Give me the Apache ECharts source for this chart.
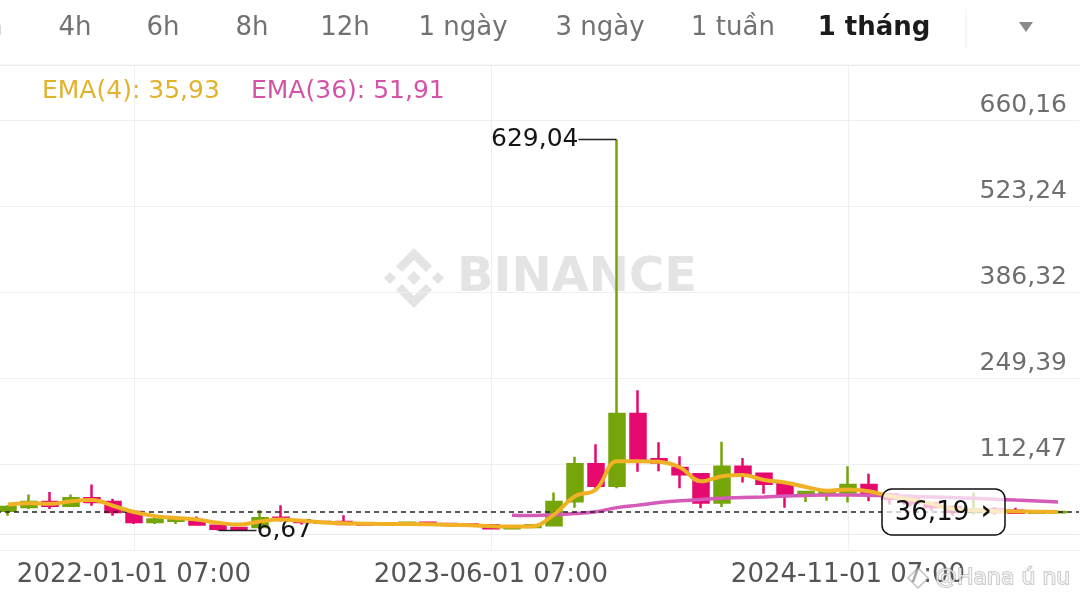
<!DOCTYPE html>
<html>
<head>
<meta charset="utf-8">
<script src="https://cdn.jsdelivr.net/npm/echarts@6/dist/echarts.min.js"></script>
<style>
  html, body { margin: 0; padding: 0; background: #fff; }
  #chart { width: 1080px; height: 606px; }
</style>
</head>
<body>
<div id="chart"></div>
<script>
// monthly slots 2021-06 .. 2025-10; candles fill 2021-07 .. 2025-09
const categories = [];
for (let i = 0; i < 53; i++) {
  const y = 2021 + Math.floor((5 + i) / 12);
  const m = ((5 + i) % 12) + 1;
  categories.push(y + '-' + String(m).padStart(2, '0') + '-01 07:00');
}
const firstSlot = 1; // 2021-07

// [open, close, lowest, highest]
const candles = [
  [38, 44, 30, 47], [44, 52, 41, 64], [52, 46, 41, 68], [46, 58, 44, 64],
  [58, 52, 46, 80], [52, 36, 30, 57], [36, 20, 17, 38], [20, 24, 17, 28],
  [22, 25, 17, 27], [21, 16, 15, 29], [14, 9.5, 6.67, 16], [10.5, 7.8, 7.2, 11.5],
  [12, 26, 10, 39], [27, 24, 21, 47], [23, 20, 16, 24], [20, 19, 17, 22],
  [20, 17, 15, 31], [17, 16, 14, 19], [16, 17, 14, 19], [17, 19, 15, 21],
  [19, 17, 15, 20], [17, 16, 14, 18], [16, 15, 13, 17], [15, 10, 9, 16],
  [10, 12, 9, 13], [12, 15, 11, 16], [15, 52, 14, 67], [53, 112, 43, 124],
  [112, 78, 70, 144], [78, 192, 74, 629.04], [192, 120, 100, 230], [120, 115, 101, 147],
  [106, 96, 74, 125], [96, 51, 42, 97], [51, 108, 44, 148], [108, 97, 83, 122],
  [97, 81, 65, 99], [81, 64, 43, 84], [65, 68, 52, 70], [66, 68, 54, 70],
  [67, 79, 51, 109], [79, 64, 53, 97], [64, 57, 48, 66], [57, 50, 45, 60],
  [50, 44, 38, 52], [44, 36, 30, 46], [36, 40, 32, 67], [40, 36, 32, 44],
  [38, 35, 33, 43], [35, 36, 33, 38], [35.5, 36.19, 35, 37]
];

const ema4 = [
  48, 50, 49, 53, 55, 46, 36, 29.5, 26.5, 24, 19, 16, 21, 24, 22, 19.5,
  18, 17.5, 17, 17, 16.5, 15.5, 15, 13.5, 12.8, 13.5, 32, 61, 72, 117,
  117, 116, 107, 85, 93, 95, 87, 83, 76, 70, 72, 69, 61, 56, 49, 41,
  39, 37.5, 37, 36.5, 35.93
];

const ema36 = [
  null, null, null, null, null, null, null, null, null, null, null, null,
  null, null, null, null, null, null, null, null, null, null, null, null,
  31, 30.5, 31.5, 33.5, 36.5, 43, 47, 51, 54, 56, 58, 59, 60, 61.5, 62.5,
  63, 63, 62.8, 62, 61, 60, 59, 58, 56.5, 55, 53.5, 51.91
];

const yTicks = [112.47, 249.39, 386.32, 523.24, 660.16];

const tabs = ['2h', '4h', '6h', '8h', '12h', '1 ngày', '3 ngày', '1 tuần', '1 tháng'];
const tabX = [-14, 75, 163, 252, 345, 463, 600, 733, 874];
const activeTab = '1 tháng';

const FONT = '"DejaVu Sans", sans-serif';
const UP = '#76a50a';
const DOWN = '#e6096e';
const EMA4_COLOR = '#f0b224';
const EMA36_COLOR = '#d65ab8';

const fmt = (v) => Number(v).toFixed(2).replace('.', ',');
const yStep = (yTicks[yTicks.length - 1] - yTicks[0]) / (yTicks.length - 1);
const yMin = yTicks[0] - yStep;
const lastClose = candles[candles.length - 1][1];
// label each grid line with the nearest listed tick value
const tickLabel = (v) => {
  let best = yTicks[0];
  yTicks.forEach((t) => { if (Math.abs(t - v) < Math.abs(best - v)) best = t; });
  return fmt(best);
};

const showIdx = (i) => i % 17 === 7;

const kData = candles.map((c, i) => [i + firstSlot].concat(c));
const ema4Data = ema4.map((v, i) => [i + firstSlot, v]);
const ema36Data = ema36.map((v, i) => [i + firstSlot, v == null ? '-' : v]);

const chart = echarts.init(document.getElementById('chart'), null, { renderer: 'canvas' });

const binanceLogo = {
  type: 'group',
  x: 414, y: 278, z: 1,
  children: [
    [[0, -30], [18, -12], [12, -6], [0, -18], [-12, -6], [-18, -12]],
    [[0, 30], [18, 12], [12, 6], [0, 18], [-12, 6], [-18, 12]],
    [[-30, 0], [-24, -6], [-18, 0], [-24, 6]],
    [[30, 0], [24, -6], [18, 0], [24, 6]],
    [[0, -7], [7, 0], [0, 7], [-7, 0]]
  ].map((pts) => ({ type: 'polygon', shape: { points: pts }, style: { fill: '#e4e4e4' } }))
};

const graphics = [
  // header tabs
  ...tabs.map((t, i) => ({
    type: 'text', x: tabX[i], y: 28, z: 10,
    style: {
      text: t, fill: t === activeTab ? '#1b1b1b' : '#727272',
      font: (t === activeTab ? 'bold ' : '') + '26px ' + FONT,
      align: 'center', verticalAlign: 'middle'
    }
  })),
  { type: 'line', z: 10, shape: { x1: 966, y1: 9, x2: 966, y2: 49 }, style: { stroke: '#ececec', lineWidth: 1 } },
  { type: 'polygon', z: 10, shape: { points: [[1019, 22], [1033, 22], [1026, 32]] }, style: { fill: '#8a8a8a' } },
  { type: 'line', z: 10, shape: { x1: 0, y1: 65, x2: 1080, y2: 65 }, style: { stroke: '#ececec', lineWidth: 1 } },
  // EMA legend
  {
    type: 'text', x: 42, y: 91, z: 10,
    style: { text: 'EMA(4): ' + fmt(ema4[ema4.length - 1]), fill: '#e3b22c', font: '25px ' + FONT, verticalAlign: 'middle' }
  },
  {
    type: 'text', x: 251, y: 91, z: 10,
    style: { text: 'EMA(36): ' + fmt(ema36[ema36.length - 1]), fill: '#d453a8', font: '25px ' + FONT, verticalAlign: 'middle' }
  },
  // Binance watermark
  binanceLogo,
  {
    type: 'text', x: 457, y: 279, z: 1,
    style: { text: 'BINANCE', fill: '#e4e4e4', font: 'bold 48px ' + FONT, verticalAlign: 'middle' }
  },
  // Square watermark
  {
    type: 'polygon', z: 60,
    shape: { points: [[918, 568], [928, 578], [918, 588], [908, 578]] },
    style: { fill: 'rgba(255,255,255,0.5)', stroke: 'rgba(120,120,120,0.45)', lineWidth: 1.5 }
  },
  {
    type: 'text', x: 935, y: 578, z: 60,
    style: {
      text: '@Hana ú nu', fill: 'rgba(255,255,255,0.75)', stroke: 'rgba(110,110,110,0.45)', lineWidth: 1.5,
      font: '22px ' + FONT, verticalAlign: 'middle'
    }
  }
];

chart.setOption({
  animation: false,
  backgroundColor: '#fff',
  grid: { left: -13, width: 1092, top: 65, bottom: 56, containLabel: false, outerBoundsMode: 'none' },
  xAxis: {
    type: 'category',
    data: categories,
    boundaryGap: false,
    axisLine: { show: true, lineStyle: { color: '#ececec' } },
    axisTick: { show: false },
    axisLabel: {
      interval: (i) => showIdx(i),
      fontFamily: FONT, fontSize: 26, color: '#555', margin: 12
    },
    splitLine: { show: true, interval: (i) => showIdx(i), lineStyle: { color: '#efefef' } }
  },
  yAxis: {
    type: 'value',
    position: 'right',
    min: yMin,
    max: 747.8,
    interval: yStep,
    axisLine: { show: false },
    axisTick: { show: false },
    splitLine: { lineStyle: { color: '#efefef' } },
    axisLabel: {
      inside: true, margin: 12, align: 'right', verticalAlign: 'bottom',
      padding: [0, 0, 2, 0],
      showMinLabel: false, showMaxLabel: false,
      fontFamily: FONT, fontSize: 25, color: '#6e6e6e',
      formatter: tickLabel
    }
  },
  series: [
    {
      name: 'kline',
      type: 'candlestick',
      data: kData,
      dimensions: ['slot', 'open', 'close', 'lowest', 'highest'],
      encode: { x: 'slot', y: ['open', 'close', 'lowest', 'highest'] },
      barWidth: 15,
      clip: false,
      z: 2,
      itemStyle: {
        color: UP, color0: DOWN, borderColor: UP, borderColor0: DOWN, borderWidth: 2.5
      },
      markPoint: {
        symbol: 'circle',
        symbolSize: 1,
        itemStyle: { color: 'rgba(0,0,0,0)' },
        label: {
          show: true,
          rich: {
            v: { fontFamily: FONT, fontSize: 25, color: '#151515' },
            l: { width: 38, height: 1.5, backgroundColor: '#222' }
          }
        },
        data: [
          {
            type: 'max', valueDim: 'highest',
            label: { position: 'left', distance: 0, formatter: (p) => '{v|' + fmt(p.value) + '}{l|}' }
          },
          {
            type: 'min', valueDim: 'lowest',
            label: { position: 'right', distance: 0, formatter: (p) => '{l|}{v|' + fmt(p.value) + '}' }
          }
        ]
      },
      markLine: {
        symbol: 'none',
        silent: true,
        label: { show: false },
        lineStyle: { color: '#222', type: [5, 4], width: 1.5 },
        data: [{ yAxis: lastClose }]
      }
    },
    {
      name: 'EMA(36)',
      type: 'line',
      data: ema36Data,
      smooth: 0.4,
      showSymbol: false,
      z: 4,
      lineStyle: { color: EMA36_COLOR, width: 3.5 }
    },
    {
      name: 'EMA(4)',
      type: 'line',
      data: ema4Data,
      smooth: 0.4,
      showSymbol: false,
      z: 5,
      lineStyle: { color: EMA4_COLOR, width: 4 }
    }
  ],
  graphic: graphics
});

// current price tag, placed on the price line
const priceY = chart.convertToPixel({ yAxisIndex: 0 }, lastClose);
chart.setOption({
  graphic: graphics.concat([
    {
      type: 'rect', z: 50,
      shape: { x: 882, y: priceY - 23, width: 123, height: 46, r: 10 },
      style: { fill: 'rgba(255,255,255,0.72)', stroke: '#111', lineWidth: 1.5 }
    },
    {
      type: 'text', z: 51, x: 932, y: priceY + 1,
      style: { text: fmt(lastClose), fill: '#111', font: '26px ' + FONT, align: 'center', verticalAlign: 'middle' }
    },
    {
      type: 'text', z: 51, x: 986, y: priceY,
      style: { text: '›', fill: '#111', font: 'bold 26px ' + FONT, align: 'center', verticalAlign: 'middle' }
    }
  ])
});
</script>
</body>
</html>
